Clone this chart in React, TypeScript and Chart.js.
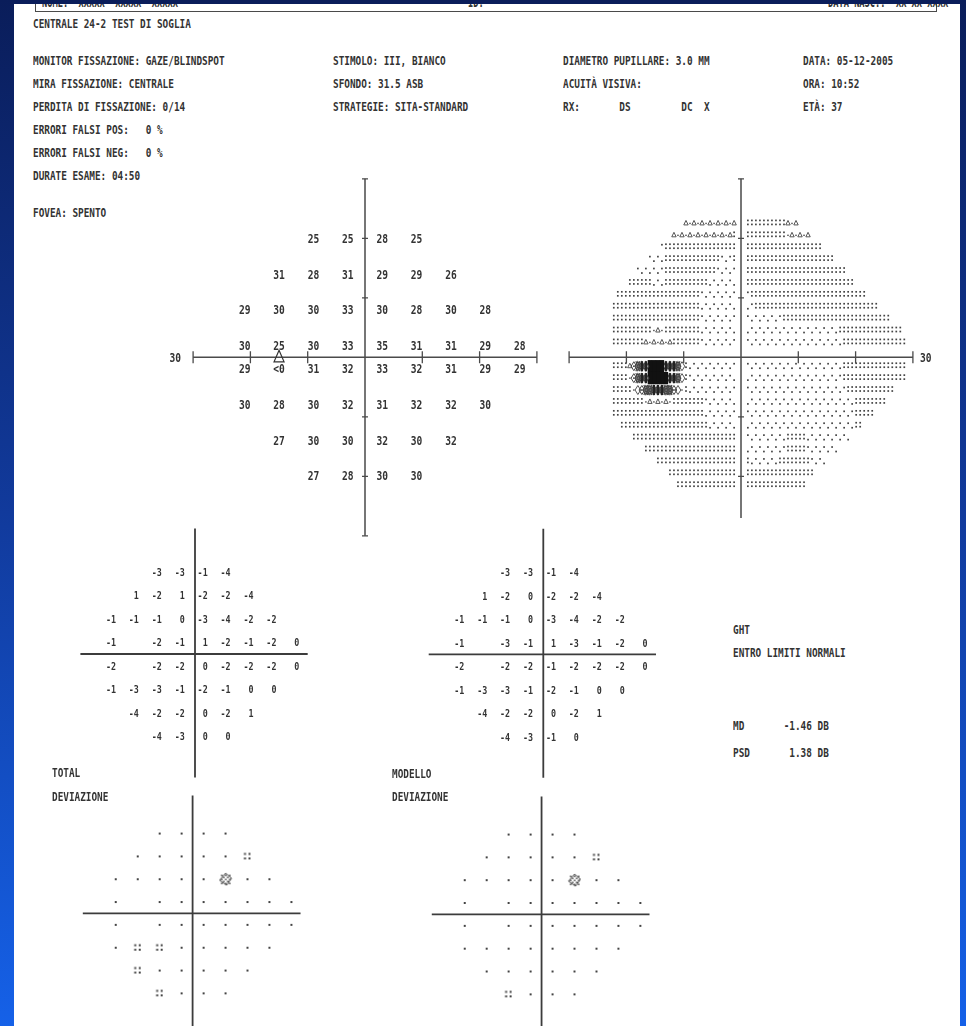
import React, { useEffect, useRef } from "react";
import { Chart, registerables } from "chart.js";

Chart.register(...registerables);

const INK = "#333333";
const AXIS_INK = "#4a4a4a";
const DOT_INK = "#444444";
const MONO = '"DejaVu Sans Mono", "Liberation Mono", monospace';
const WEIGHT = "bold";

// ---- 24-2 test grid, degrees ----
const ROW_Y = [21, 15, 9, 3, -3, -9, -15, -21];
const ROW_X = [
  [-9, -3, 3, 9],
  [-15, -9, -3, 3, 9, 15],
  [-21, -15, -9, -3, 3, 9, 15, 21],
  [-21, -15, -9, -3, 3, 9, 15, 21, 27],
  [-21, -15, -9, -3, 3, 9, 15, 21, 27],
  [-21, -15, -9, -3, 3, 9, 15, 21],
  [-15, -9, -3, 3, 9, 15],
  [-9, -3, 3, 9],
];

// value printed as "<0"
const BELOW_ZERO = -1;

// threshold sensitivity, dB
const THRESHOLD_DB = [
  [25, 25, 28, 25],
  [31, 28, 31, 29, 29, 26],
  [29, 30, 30, 33, 30, 28, 30, 28],
  [30, 25, 30, 33, 35, 31, 31, 29, 28],
  [29, BELOW_ZERO, 31, 32, 33, 32, 31, 29, 29],
  [30, 28, 30, 32, 31, 32, 32, 30],
  [27, 30, 30, 32, 30, 32],
  [27, 28, 30, 30],
];

// total deviation, dB (blind spot neighbours not reported)
const TOTAL_DEV = [
  [-3, -3, -1, -4],
  [1, -2, 1, -2, -2, -4],
  [-1, -1, -1, 0, -3, -4, -2, -2],
  [-1, null, -2, -1, 1, -2, -1, -2, 0],
  [-2, null, -2, -2, 0, -2, -2, -2, 0],
  [-1, -3, -3, -1, -2, -1, 0, 0],
  [-4, -2, -2, 0, -2, 1],
  [-4, -3, 0, 0],
];

// pattern deviation, dB
const PATTERN_DEV = [
  [-3, -3, -1, -4],
  [1, -2, 0, -2, -2, -4],
  [-1, -1, -1, 0, -3, -4, -2, -2],
  [-1, null, -3, -1, 1, -3, -1, -2, 0],
  [-2, null, -2, -2, -1, -2, -2, -2, 0],
  [-1, -3, -3, -1, -2, -1, 0, 0],
  [-4, -2, -2, 0, -2, 1],
  [-4, -3, -1, 0],
];

// probability symbols: 0 = normal, 1 = P < 5%, 2 = P < 2%
const TOTAL_PROB = [
  [0, 0, 0, 0],
  [0, 0, 0, 0, 0, 1],
  [0, 0, 0, 0, 0, 2, 0, 0],
  [0, null, 0, 0, 0, 0, 0, 0, 0],
  [0, null, 0, 0, 0, 0, 0, 0, 0],
  [0, 1, 1, 0, 0, 0, 0, 0],
  [1, 0, 0, 0, 0, 0],
  [1, 0, 0, 0],
];
const PATTERN_PROB = [
  [0, 0, 0, 0],
  [0, 0, 0, 0, 0, 1],
  [0, 0, 0, 0, 0, 2, 0, 0],
  [0, null, 0, 0, 0, 0, 0, 0, 0],
  [0, null, 0, 0, 0, 0, 0, 0, 0],
  [0, 0, 0, 0, 0, 0, 0, 0],
  [0, 0, 0, 0, 0, 0],
  [1, 0, 0, 0],
];

const BLIND_SPOT = [{ x: -15, y: 0 }];
const AXIS_TICKS = [-30, -20, -10, 10, 20, 30];
const AXIS_END_LABEL = "30";

// ---- printed text ----
const BOX_TEXT = ["NOME:  XXXXX  XXXXX  XXXXX", "ID:", "DATA NASC.:  XX-XX-XXXX"];
const TITLE = "CENTRALE 24-2 TEST DI SOGLIA";
const INFO_LEFT = [
  "MONITOR FISSAZIONE: GAZE/BLINDSPOT",
  "MIRA FISSAZIONE: CENTRALE",
  "PERDITA DI FISSAZIONE: 0/14",
  "ERRORI FALSI POS:   0 %",
  "ERRORI FALSI NEG:   0 %",
  "DURATE ESAME: 04:50",
];
const FOVEA = "FOVEA: SPENTO";
const INFO_MID = ["STIMOLO: III, BIANCO", "SFONDO: 31.5 ASB", "STRATEGIE: SITA-STANDARD"];
const INFO_RIGHT = ["DIAMETRO PUPILLARE: 3.0 MM", "ACUITÀ VISIVA:", "RX:       DS         DC  X"];
const INFO_DATE = ["DATA: 05-12-2005", "ORA: 10:52", "ETÀ: 37"];
const GHT = ["GHT", "ENTRO LIMITI NORMALI"];
const INDICES = [
  { name: "MD", value: "-1.46" },
  { name: "PSD", value: "1.38" },
];
const TOTAL_TITLE = ["TOTAL", "DEVIAZIONE"];
const PATTERN_TITLE = ["MODELLO", "DEVIAZIONE"];

type Pt = { x: number; y: number; v: number };

function gridPoints(rows: (number | null)[][]): Pt[] {
  const out: Pt[] = [];
  rows.forEach((row, r) =>
    row.forEach((v, c) => {
      if (v !== null && v !== undefined) out.push({ x: ROW_X[r][c], y: ROW_Y[r], v });
    })
  );
  return out;
}

const thresholdPts = gridPoints(THRESHOLD_DB);
const totalDevPts = gridPoints(TOTAL_DEV);
const patternDevPts = gridPoints(PATTERN_DEV);
const totalProbPts = gridPoints(TOTAL_PROB);
const patternProbPts = gridPoints(PATTERN_PROB);

const fmtDb = (v: number) => (v <= BELOW_ZERO ? "<0" : String(v));

// ---- canvas helpers ----
function monoText(ctx: any, text: string, x: number, y: number, align: string, size: number, sx: number) {
  ctx.save();
  ctx.font = `${WEIGHT} ${size}px ${MONO}`;
  ctx.fillStyle = INK;
  ctx.textAlign = "left";
  ctx.textBaseline = "alphabetic";
  const w = ctx.measureText(text).width * sx;
  const x0 = align === "left" ? x : align === "right" ? x - w : x - w / 2;
  ctx.translate(x0, y + size * 0.365);
  ctx.scale(sx, 1);
  ctx.fillText(text, 0, 0);
  ctx.restore();
}

type Axes = { h: number[]; v: number[]; ticks?: number[]; width: number; color: string };

function drawCross(chart: any, ax: Axes) {
  const { ctx } = chart;
  const X = chart.scales.x;
  const Y = chart.scales.y;
  const x0 = X.getPixelForValue(0);
  const y0 = Y.getPixelForValue(0);
  ctx.save();
  ctx.strokeStyle = ax.color;
  ctx.lineWidth = ax.width;
  ctx.beginPath();
  ctx.moveTo(X.getPixelForValue(ax.h[0]), y0);
  ctx.lineTo(X.getPixelForValue(ax.h[1]), y0);
  ctx.moveTo(x0, Y.getPixelForValue(ax.v[0]));
  ctx.lineTo(x0, Y.getPixelForValue(ax.v[1]));
  ctx.stroke();
  if (ax.ticks) {
    ctx.lineWidth = 1.3;
    ctx.beginPath();
    ax.ticks.forEach((t) => {
      if (t >= ax.h[0] && t <= ax.h[1]) {
        const x = X.getPixelForValue(t);
        ctx.moveTo(x, y0 - 6);
        ctx.lineTo(x, y0 + 6);
      }
      if (t <= ax.v[0] && t >= ax.v[1]) {
        const y = Y.getPixelForValue(t);
        ctx.moveTo(x0 - 3, y);
        ctx.lineTo(x0 + 3, y);
      }
    });
    ctx.stroke();
  }
  ctx.restore();
}

// ---- grayscale interpolation ----
const thresholdMap = new Map<string, number>();
thresholdPts.forEach((p) => thresholdMap.set(`${p.x},${p.y}`, p.v));

// power-mean blend (p < 1) so that depressed points spread further
const BLEND_P = 0.4;

function sensitivityAt(x: number, y: number): number {
  const gx = (x + 27) / 6;
  const gy = (y + 21) / 6;
  const i0 = Math.floor(gx);
  const j0 = Math.floor(gy);
  const ease = (f: number) => Math.min(1, Math.max(0, (f - 0.2) / 0.75));
  const fx = ease(gx - i0);
  const fy = ease(gy - j0);
  const corners = [
    [0, 0, (1 - fx) * (1 - fy)],
    [1, 0, fx * (1 - fy)],
    [0, 1, (1 - fx) * fy],
    [1, 1, fx * fy],
  ];
  let sum = 0;
  let wsum = 0;
  corners.forEach(([di, dj, w]) => {
    const v = thresholdMap.get(`${-27 + 6 * (i0 + di)},${-21 + 6 * (j0 + dj)}`);
    if (v !== undefined && w > 0) {
      sum += w * Math.pow(Math.max(v, 0), BLEND_P);
      wsum += w;
    }
  });
  if (wsum > 1e-6) return Math.pow(sum / wsum, 1 / BLEND_P);
  let best = Infinity;
  let bv = 30;
  thresholdPts.forEach((p) => {
    const d = (p.x - x) ** 2 + (p.y - y) ** 2;
    if (d < best) {
      best = d;
      bv = Math.max(p.v, 0);
    }
  });
  return bv;
}

function grayGlyph(ctx: any, x: number, y: number, v: number, parity: number, cw: number, bh: number) {
  ctx.fillStyle = DOT_INK;
  ctx.strokeStyle = DOT_INK;
  const dot = (dx: number, dy: number, s = 1.7) => ctx.fillRect(x + dx - s / 2, y + dy - s / 2, s, s);
  if (v > 30.5) {
    dot(0, parity % 2 === 0 ? -2.5 : 2);
    return;
  }
  if (v > 25.5) {
    dot(0, -3);
    dot(0, 1);
    return;
  }
  if (v > 20.5) {
    if (parity % 2 === 0) {
      ctx.lineWidth = 0.9;
      ctx.beginPath();
      ctx.moveTo(x - 2.2, y + 1.5);
      ctx.lineTo(x + 2.2, y + 1.5);
      ctx.lineTo(x, y - 3);
      ctx.closePath();
      ctx.stroke();
    } else dot(0, 0, 1.4);
    return;
  }
  const diamond = () => {
    ctx.beginPath();
    ctx.moveTo(x, y - 4.5);
    ctx.lineTo(x + 2.8, y);
    ctx.lineTo(x, y + 4.5);
    ctx.lineTo(x - 2.8, y);
    ctx.closePath();
  };
  if (v > 15.5) {
    ctx.lineWidth = 0.9;
    diamond();
    ctx.stroke();
    return;
  }
  if (v > 10.5) {
    ctx.lineWidth = 1;
    diamond();
    ctx.stroke();
    dot(0, 0, 1.6);
    return;
  }
  if (v > 5.5) {
    ctx.lineWidth = 1.2;
    diamond();
    ctx.stroke();
    ctx.beginPath();
    ctx.moveTo(x - 2, y - 5);
    ctx.lineTo(x + 2, y + 5);
    ctx.moveTo(x + 2, y - 5);
    ctx.lineTo(x - 2, y + 5);
    ctx.stroke();
    return;
  }
  if (v > 0.5) {
    ctx.lineWidth = 1.3;
    diamond();
    ctx.stroke();
    ctx.fillStyle = "#222";
    ctx.fillRect(x - 1.2, y - 5, 2.4, 10);
    return;
  }
  ctx.fillStyle = "#111";
  ctx.fillRect(x - cw / 2 - 0.2, y - bh / 2 - 0.2, cw + 0.4, bh + 0.4);
}

// ---- probability symbols ----
function makeSymbol(size: number, paint: (g: CanvasRenderingContext2D) => void) {
  const c = document.createElement("canvas");
  c.width = size;
  c.height = size;
  const g = c.getContext("2d") as CanvasRenderingContext2D;
  g.fillStyle = DOT_INK;
  g.strokeStyle = DOT_INK;
  paint(g);
  return c;
}

function probSymbols() {
  const normal = makeSymbol(4, (g) => g.fillRect(1, 1, 2, 2));
  const p5 = makeSymbol(10, (g) => {
    [[1.5, 1.5], [6, 1.5], [1.5, 6], [6, 6]].forEach(([a, b]) => g.fillRect(a, b, 2, 2));
  });
  const p2 = makeSymbol(14, (g) => {
    g.lineWidth = 1;
    g.beginPath();
    g.moveTo(7, 1);
    g.lineTo(13, 6);
    g.lineTo(8, 13);
    g.lineTo(1, 8);
    g.closePath();
    g.stroke();
    for (let i = 0; i < 5; i++)
      for (let j = 0; j < 5; j++) if ((i + j) % 2 === 0) g.fillRect(2.5 + i * 2, 2.5 + j * 2, 1.5, 1.5);
  });
  return [normal, p5, p2];
}

// ---- chart wrapper ----
type Geo = { left: number; top: number; width: number; height: number; cx: number; cy: number; kx: number; ky: number };

function FieldChart({ geo, datasets, draw }: { geo: Geo; datasets: () => any[]; draw: (chart: any) => void }) {
  const ref = useRef<HTMLCanvasElement | null>(null);
  useEffect(() => {
    const canvas = ref.current;
    if (!canvas) return;
    const chart = new Chart(canvas, {
      type: "scatter",
      data: { datasets: datasets() },
      options: {
        animation: false,
        responsive: false,
        devicePixelRatio: 1,
        events: [],
        layout: { padding: 0 },
        scales: {
          x: {
            type: "linear",
            display: false,
            min: (geo.left - geo.cx) / geo.kx,
            max: (geo.left + geo.width - geo.cx) / geo.kx,
          },
          y: {
            type: "linear",
            display: false,
            min: (geo.cy - geo.top - geo.height) / geo.ky,
            max: (geo.cy - geo.top) / geo.ky,
          },
        },
        plugins: { legend: { display: false }, tooltip: { enabled: false } },
      },
      plugins: [{ id: "fieldDraw", afterDatasetsDraw: (c: any) => draw(c) }],
    } as any);
    return () => chart.destroy();
  }, []);
  return (
    <canvas
      ref={ref}
      width={geo.width}
      height={geo.height}
      style={{ position: "absolute", left: geo.left, top: geo.top, width: geo.width, height: geo.height }}
    />
  );
}

const hidden = (pts: Pt[]) => [{ data: pts, pointRadius: 0, showLine: false }];

// ---- layouts (px) ----
const GEO_THRESHOLD: Geo = { left: 150, top: 165, width: 420, height: 380, cx: 365, cy: 357.3, kx: 5.73, ky: 5.95 };
const GEO_GRAY: Geo = { left: 560, top: 165, width: 395, height: 375, cx: 741, cy: 357.3, kx: 5.73, ky: 5.95 };
const GEO_TOTAL_DEV: Geo = { left: 60, top: 520, width: 270, height: 265, cx: 195, cy: 654, kx: 3.82, ky: 3.92 };
const GEO_PATTERN_DEV: Geo = { left: 408, top: 520, width: 270, height: 265, cx: 543.3, cy: 654.3, kx: 3.82, ky: 3.92 };
const GEO_TOTAL_PROB: Geo = { left: 60, top: 785, width: 270, height: 241, cx: 192.5, cy: 913.8, kx: 3.8, ky: 3.97 };
const GEO_PATTERN_PROB: Geo = { left: 408, top: 785, width: 270, height: 241, cx: 541.5, cy: 914.8, kx: 3.8, ky: 3.97 };

const THRESHOLD_AXES: Axes = { h: [-30, 30], v: [30, -30], ticks: AXIS_TICKS, width: 1.5, color: AXIS_INK };
const GRAY_AXES: Axes = { h: [-30, 30], v: [30, -27], ticks: AXIS_TICKS, width: 1.5, color: AXIS_INK };
const DEV_AXES: Axes = { h: [-30, 29.5], v: [32, -31.5], width: 1.8, color: "#3c3c3c" };
const PROB_AXES: Axes = { h: [-30, 29.5], v: [31, -40], width: 1.8, color: "#3c3c3c" };

function drawThreshold(chart: any) {
  const { ctx } = chart;
  const X = chart.scales.x;
  const Y = chart.scales.y;
  drawCross(chart, THRESHOLD_AXES);
  ctx.save();
  ctx.strokeStyle = "#333";
  ctx.lineWidth = 1.2;
  BLIND_SPOT.forEach((p) => {
    const x = X.getPixelForValue(p.x);
    const y = Y.getPixelForValue(p.y);
    ctx.beginPath();
    ctx.moveTo(x, y - 7);
    ctx.lineTo(x + 5, y + 4.5);
    ctx.lineTo(x - 5, y + 4.5);
    ctx.closePath();
    ctx.stroke();
  });
  ctx.restore();
  thresholdPts.forEach((p) => {
    const nudge = p.y > 0 ? 6.3 : -6.3;
    monoText(ctx, fmtDb(p.v), X.getPixelForValue(p.x), Y.getPixelForValue(p.y) + nudge, "center", 12, 0.8);
  });
  monoText(ctx, AXIS_END_LABEL, X.getPixelForValue(-30) - 12, Y.getPixelForValue(0), "right", 12, 0.8);
}

function drawGray(chart: any) {
  const { ctx } = chart;
  const X = chart.scales.x;
  const Y = chart.scales.y;
  const cw = Math.abs(X.getPixelForValue(0.7) - X.getPixelForValue(0));
  const bh = Math.abs(Y.getPixelForValue(2) - Y.getPixelForValue(0));
  ctx.save();
  let row = 0;
  for (let yc = 22.5; yc > -23; yc -= 2, row++) {
    if (Math.abs(yc) < 1) continue;
    [-1, 1].forEach((side) => {
      const lim = Math.min(side > 0 ? 28.8 : 22.8, 32.5 - Math.abs(yc));
      for (let k = 0; ; k++) {
        const xc = side * (1.2 + 0.7 * k);
        if (Math.abs(xc) > lim) break;
        grayGlyph(ctx, X.getPixelForValue(xc), Y.getPixelForValue(yc), sensitivityAt(xc, yc), k + row, cw, bh);
      }
    });
  }
  ctx.restore();
  drawCross(chart, GRAY_AXES);
  monoText(ctx, AXIS_END_LABEL, X.getPixelForValue(30) + 7, Y.getPixelForValue(0), "left", 12, 0.8);
}

const devDraw = (pts: Pt[]) => (chart: any) => {
  const X = chart.scales.x;
  const Y = chart.scales.y;
  drawCross(chart, DEV_AXES);
  pts.forEach((p) => monoText(chart.ctx, String(p.v), X.getPixelForValue(p.x) + 1.2, Y.getPixelForValue(p.y), "right", 11, 0.76));
};

const probDatasets = (pts: Pt[]) => () => {
  const symbols = probSymbols();
  return [0, 1, 2].map((level) => ({
    data: pts.filter((p) => p.v === level),
    pointStyle: symbols[level],
    pointRadius: 3,
    showLine: false,
  }));
};

const probDraw = (chart: any) => drawCross(chart, PROB_AXES);

function Txt({ x, y, text, size = 12, sx = 0.78 }: { x: number; y: number; text: string; size?: number; sx?: number }) {
  return (
    <div
      style={{
        position: "absolute",
        left: x,
        top: y - 0.481 * size,
        fontFamily: MONO,
        fontWeight: WEIGHT,
        fontSize: size,
        lineHeight: `${size}px`,
        whiteSpace: "pre",
        transform: `scaleX(${sx})`,
        transformOrigin: "0 0",
        color: INK,
      }}
    >
      {text}
    </div>
  );
}

const FRAME_BLUE = "linear-gradient(to bottom, #0a1d5a 0%, #113a9c 50%, #1561e8 100%)";

export default function App() {
  const lineGap = 23;
  return (
    <div
      style={{
        position: "fixed",
        left: 0,
        top: 0,
        width: 966,
        height: 1026,
        overflow: "hidden",
        background: FRAME_BLUE,
      }}
    >
      <div style={{ position: "absolute", left: 14, top: 0, width: 946, height: 1026, background: "#fff" }} />

      {/* patient box, cut off by the top edge */}
      <div
        style={{
          position: "absolute",
          left: 35,
          top: -20,
          width: 900,
          height: 30,
          border: "1.5px solid #4a4a4a",
        }}
      />
      <Txt x={42} y={1.5} text={BOX_TEXT[0]} size={14} sx={0.62} />
      <Txt x={468} y={1.5} text={BOX_TEXT[1]} size={14} sx={0.62} />
      <Txt x={828} y={1.5} text={BOX_TEXT[2]} size={14} sx={0.62} />

      <Txt x={33} y={24} text={TITLE} />
      {INFO_LEFT.map((t, i) => (
        <Txt key={t} x={33} y={61 + i * lineGap} text={t} />
      ))}
      <Txt x={33} y={213} text={FOVEA} />
      {INFO_MID.map((t, i) => (
        <Txt key={t} x={333} y={61 + i * lineGap} text={t} />
      ))}
      {INFO_RIGHT.map((t, i) => (
        <Txt key={t} x={563} y={61 + i * lineGap} text={t} />
      ))}
      {INFO_DATE.map((t, i) => (
        <Txt key={t} x={803} y={61 + i * lineGap} text={t} />
      ))}

      <FieldChart geo={GEO_THRESHOLD} datasets={() => hidden(thresholdPts)} draw={drawThreshold} />
      <FieldChart geo={GEO_GRAY} datasets={() => hidden(thresholdPts)} draw={drawGray} />
      <FieldChart geo={GEO_TOTAL_DEV} datasets={() => hidden(totalDevPts)} draw={devDraw(totalDevPts)} />
      <FieldChart geo={GEO_PATTERN_DEV} datasets={() => hidden(patternDevPts)} draw={devDraw(patternDevPts)} />
      <FieldChart geo={GEO_TOTAL_PROB} datasets={probDatasets(totalProbPts)} draw={probDraw} />
      <FieldChart geo={GEO_PATTERN_PROB} datasets={probDatasets(patternProbPts)} draw={probDraw} />

      {GHT.map((t, i) => (
        <Txt key={t} x={733} y={630 + i * lineGap} text={t} />
      ))}
      {INDICES.map((d, i) => (
        <Txt key={d.name} x={733} y={726 + i * 26.7} text={`${d.name.padEnd(d.value.startsWith("-") ? 9 : 10)}${d.value} DB`} />
      ))}

      {TOTAL_TITLE.map((t, i) => (
        <Txt key={t} x={52} y={773 + i * 24} text={t} />
      ))}
      {PATTERN_TITLE.map((t, i) => (
        <Txt key={t} x={392} y={774 + i * 23} text={t} />
      ))}

      {/* frame strips */}
      <div style={{ position: "absolute", left: 0, top: 0, width: 966, height: 4, background: "#0a1d5a" }} />
      <div style={{ position: "absolute", left: 0, top: 0, width: 14, height: 1026, background: FRAME_BLUE }} />
      <div style={{ position: "absolute", left: 960, top: 0, width: 6, height: 1026, background: FRAME_BLUE }} />
    </div>
  );
}
